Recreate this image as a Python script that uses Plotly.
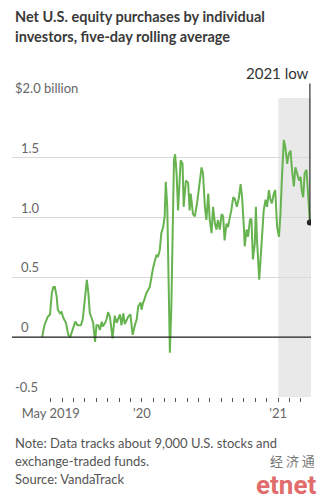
import plotly.graph_objects as go

# Five-day rolling average of net U.S. equity purchases by individual investors ($ billion)
dates = [
    "2019-04-08", "2019-04-14", "2019-04-23", "2019-04-29", "2019-05-04", "2019-05-08",
    "2019-05-12", "2019-05-17", "2019-05-20", "2019-05-26", "2019-05-30", "2019-06-04",
    "2019-06-11", "2019-06-17", "2019-06-22", "2019-06-29", "2019-07-06", "2019-07-12",
    "2019-07-21", "2019-07-26", "2019-07-30", "2019-08-04", "2019-08-06", "2019-08-10",
    "2019-08-14", "2019-08-20", "2019-08-23", "2019-08-28", "2019-09-01", "2019-09-06",
    "2019-09-10", "2019-09-15", "2019-09-18", "2019-09-24", "2019-09-28", "2019-10-02",
    "2019-10-07", "2019-10-14", "2019-10-20", "2019-10-25", "2019-10-29", "2019-11-03",
    "2019-11-07", "2019-11-12", "2019-11-16", "2019-11-20", "2019-11-25", "2019-12-01",
    "2019-12-07", "2019-12-13", "2019-12-18", "2019-12-22", "2019-12-25", "2019-12-28",
    "2019-12-31", "2020-01-04", "2020-01-06", "2020-01-13", "2020-01-20", "2020-01-22",
    "2020-01-31", "2020-02-09", "2020-02-13", "2020-02-18", "2020-02-22", "2020-02-27",
    "2020-03-02", "2020-03-05", "2020-03-09", "2020-03-12", "2020-03-16", "2020-03-20",
    "2020-03-23", "2020-03-27", "2020-03-30", "2020-04-03", "2020-04-07", "2020-04-12",
    "2020-04-14", "2020-04-19", "2020-04-22", "2020-04-28", "2020-05-04", "2020-05-08",
    "2020-05-11", "2020-05-17", "2020-05-22", "2020-05-28", "2020-06-04", "2020-06-09",
    "2020-06-13", "2020-06-18", "2020-06-22", "2020-06-27", "2020-07-01", "2020-07-06",
    "2020-07-10", "2020-07-15", "2020-07-19", "2020-07-23", "2020-07-28", "2020-08-02",
    "2020-08-06", "2020-08-10", "2020-08-15", "2020-08-19", "2020-08-24", "2020-08-28",
    "2020-09-02", "2020-09-06", "2020-09-12", "2020-09-17", "2020-09-22", "2020-09-26",
    "2020-10-01", "2020-10-03", "2020-10-08", "2020-10-12", "2020-10-17", "2020-10-21",
    "2020-10-25", "2020-10-30", "2020-11-02", "2020-11-05", "2020-11-11", "2020-11-14",
    "2020-11-19", "2020-11-23", "2020-11-28", "2020-12-02", "2020-12-07", "2020-12-11",
    "2020-12-15", "2020-12-20", "2020-12-24", "2020-12-29", "2021-01-03", "2021-01-07",
    "2021-01-11", "2021-01-16", "2021-01-20", "2021-01-25", "2021-01-29", "2021-02-03",
    "2021-02-07", "2021-02-12", "2021-02-16", "2021-02-20", "2021-02-26", "2021-03-02",
    "2021-03-05", "2021-03-09", "2021-03-13", "2021-03-18", "2021-03-20", "2021-03-24",
    "2021-03-27",
]
purchases = [
    0.00, 0.10, 0.17, 0.19, 0.37, 0.42,
    0.42, 0.34, 0.23, 0.20, 0.21, 0.16,
    0.12, 0.02, 0.00, 0.06, 0.13, 0.10,
    0.10, 0.15, 0.26, 0.45, 0.48, 0.37,
    0.20, 0.15, 0.12, -0.04, 0.10, 0.10,
    0.06, 0.13, 0.09, 0.12, 0.15, 0.21,
    0.17, -0.01, 0.18, 0.12, 0.15, 0.19,
    0.10, 0.20, 0.11, 0.14, 0.17, 0.19,
    0.02, 0.10, 0.15, 0.26, 0.27, 0.29,
    0.23, 0.29, 0.30, 0.37, 0.42, 0.42,
    0.58, 0.69, 0.67, 0.73, 0.87, 0.92,
    1.01, 1.30, 1.09, 0.54, -0.13, 0.26,
    0.95, 1.48, 1.53, 1.37, 1.06, 1.37,
    1.48, 1.45, 1.09, 1.31, 1.29, 1.06,
    1.20, 1.03, 1.01, 1.12, 1.28, 1.42,
    1.37, 1.09, 0.98, 1.20, 0.98, 0.87,
    1.09, 0.95, 0.90, 0.98, 0.90, 1.03,
    1.01, 0.81, 0.95, 0.92, 1.00, 1.06,
    1.17, 1.16, 1.09, 1.16, 1.28, 1.17,
    0.90, 0.76, 0.90, 0.84, 0.98, 0.99,
    0.65, 0.78, 1.09, 0.81, 0.48, 0.65,
    0.87, 1.06, 1.15, 1.09, 1.23, 1.15,
    1.12, 1.20, 1.23, 0.92, 0.84, 1.03,
    1.34, 1.65, 1.59, 1.45, 1.53, 1.56,
    1.40, 1.26, 1.42, 1.37, 1.31, 1.34,
    1.23, 1.17, 1.37, 1.40, 1.31, 1.12,
    0.96,
]

# Monthly axis ticks; only a few carry labels
tick_dates = [
    "2019-05-01", "2019-06-01", "2019-07-01", "2019-08-01", "2019-09-01", "2019-10-01",
    "2019-11-01", "2019-12-01", "2020-01-01", "2020-02-01", "2020-03-01", "2020-04-01",
    "2020-05-01", "2020-06-01", "2020-07-01", "2020-08-01", "2020-09-01", "2020-10-01",
    "2020-11-01", "2020-12-01", "2021-01-01", "2021-02-01", "2021-03-01",
]
tick_text = ["May 2019"] + [""] * 7 + ["'20"] + [""] * 11 + ["'21", "", ""]

y_grid = [2.0, 1.5, 1.0, 0.5, 0.0, -0.5]
y_labels = ["$2.0 billion", "1.5", "1.0", "0.5", "0", "-0.5"]

x_start, x_end = "2019-01-17", "2021-03-30"
shade_start = "2021-01-01"

FONT = "Lato"
GREEN = "#66b34f"
TEXT = "#333333"
GREY = "#666666"

# plot area in pixels
W, H = 323, 500
L, R, T, B = 12, 11.5, 97.5, 102.5
plot_w, plot_h = W - L - R, H - T - B


def px(x):
    return (x - L) / plot_w


def py(y):
    return (H - B - y) / plot_h


fig = go.Figure()

fig.add_trace(go.Scatter(
    x=dates, y=purchases, mode="lines",
    line=dict(color=GREEN, width=2),
    hoverinfo="skip", showlegend=False,
))

# 2021 shading
fig.add_shape(type="rect", xref="x", yref="paper", x0=shade_start, x1=x_end,
              y0=0, y1=1, fillcolor="#e9e9ea", line_width=0, layer="below")

# zero line
fig.add_shape(type="line", xref="paper", yref="y", x0=0, x1=1, y0=0, y1=0,
              line=dict(color="#222222", width=1.2))

# 2021 low marker
fig.add_shape(type="line", xref="x", yref="paper", x0=dates[-1], x1=dates[-1],
              y0=(purchases[-1] + 0.5) / 2.5, y1=py(83),
              line=dict(color="#333333", width=1.2))
fig.add_trace(go.Scatter(
    x=[dates[-1]], y=[purchases[-1]], mode="markers",
    marker=dict(color="#222222", size=6), hoverinfo="skip", showlegend=False,
))

annotations = []
# y labels sit above their gridlines
for v, t in zip(y_grid, y_labels):
    left = 13 if t.startswith("$") or t.startswith("-") else 19
    annotations.append(dict(
        text=t, xref="paper", yref="y", x=px(left), y=v, xanchor="left",
        yanchor="bottom", yshift=0, showarrow=False,
        font=dict(family=FONT, size=13, color=GREY),
    ))

annotations.append(dict(
    text="2021 low", xref="paper", yref="paper", x=px(311.5), y=py(72),
    xanchor="right", yanchor="middle", showarrow=False,
    font=dict(family=FONT, size=15, color=TEXT),
))

# title
for line, ypix in [("Net U.S. equity purchases by individual", 16),
                   ("investors, five-day rolling average", 36)]:
    annotations.append(dict(
        text="<b>" + line + "</b>", xref="paper", yref="paper", x=px(13), y=py(ypix),
        xanchor="left", yanchor="middle", showarrow=False,
        font=dict(family=FONT, size=14.5, color="#3a3a3a"),
    ))

# notes and source
for line, ypix in [("Note: Data tracks about 9,000 U.S. stocks and", 444),
                   ("exchange-traded funds.", 462),
                   ("Source: VandaTrack", 480)]:
    annotations.append(dict(
        text=line, xref="paper", yref="paper", x=px(13), y=py(ypix),
        xanchor="left", yanchor="middle", showarrow=False,
        font=dict(family=FONT, size=13, color="#555555"),
    ))

# publisher mark
annotations.append(dict(
    text="经 济 通", xref="paper", yref="paper", x=px(318), y=py(461),
    xanchor="right", yanchor="middle", showarrow=False,
    font=dict(family="Noto Sans CJK SC", size=13, color="#777777"),
))
annotations.append(dict(
    text="<b>etnet</b>", xref="paper", yref="paper", x=px(319), y=py(486),
    xanchor="right", yanchor="middle", showarrow=False,
    font=dict(family="Roboto", size=26, color="#e06c6c"),
))

fig.update_layout(
    width=W, height=H, autosize=False,
    margin=dict(l=L, r=R, t=T, b=B, pad=0),
    paper_bgcolor="white", plot_bgcolor="white",
    annotations=annotations,
    xaxis=dict(
        type="date", range=[x_start, x_end],
        tickvals=tick_dates, ticktext=tick_text,
        ticks="outside", ticklen=4, tickwidth=1, tickcolor="#555555",
        showgrid=False, zeroline=False, showline=False,
        tickfont=dict(family=FONT, size=13, color=GREY),
    ),
    yaxis=dict(
        range=[-0.5, 2.0], tickvals=y_grid, showticklabels=False,
        showgrid=True, gridcolor="#d9d9d9", gridwidth=1,
        zeroline=False, showline=False, ticks="",
    ),
)

fig.write_html("out.html")
